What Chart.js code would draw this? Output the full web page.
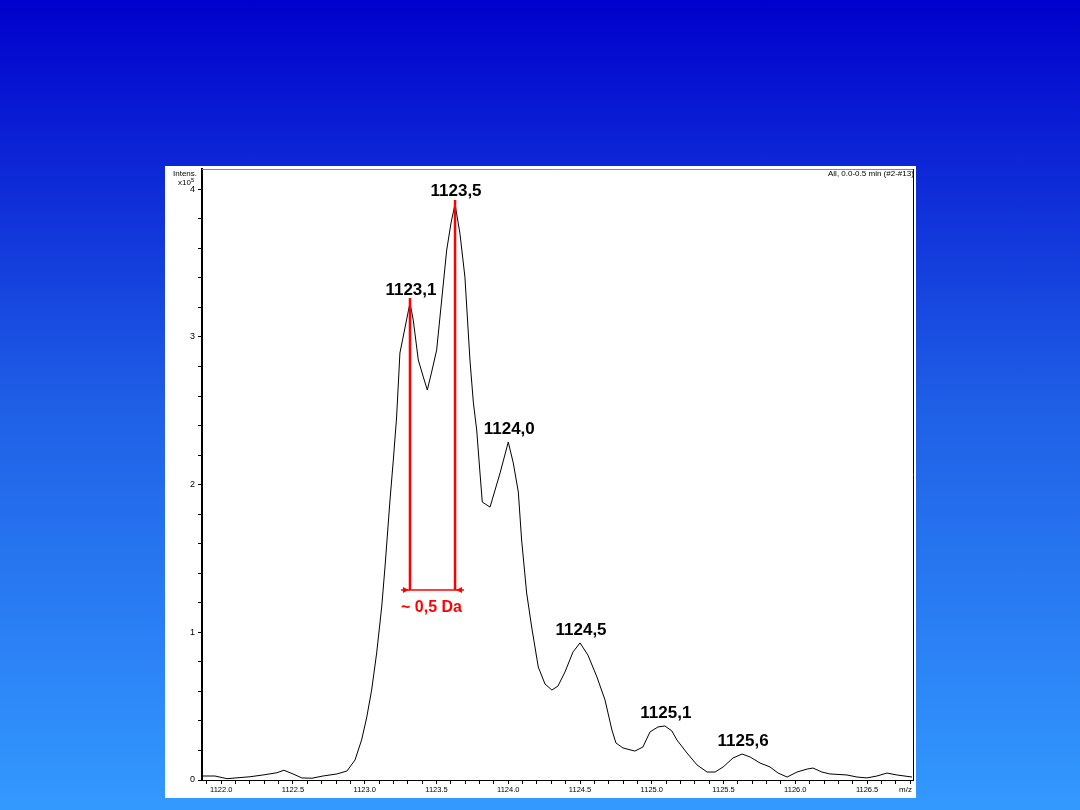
<!DOCTYPE html>
<html>
<head>
<meta charset="utf-8">
<script src="https://cdn.jsdelivr.net/npm/chart.js@4.4.0/dist/chart.umd.min.js"></script>
<style>
  html, body { margin:0; padding:0; }
  body { width:1080px; height:810px; overflow:hidden;
         background: linear-gradient(to bottom, #0000cc 0%, #1f5fe6 50%, #3399ff 100%);
         font-family: "Liberation Sans", Arial, sans-serif; position:relative; }
  #panel { position:absolute; left:165px; top:166px; width:751px; height:632px; background:#fff; }
  #wrap { position:absolute; left:0; top:0; width:1080px; height:810px; }
  .small { position:absolute; font-size:8px; color:#000; white-space:nowrap; line-height:1; }
</style>
</head>
<body>
<div id="panel"></div>
<div id="wrap"><canvas id="c"></canvas></div>
<div class="small" style="left:173px; top:170px;">Intens.</div>
<div class="small" style="left:178px; top:179px;">x10<sup style="font-size:6px; vertical-align:top; position:relative; top:-2px;">5</sup></div>
<div class="small" style="left:828px; top:170px;">All, 0.0-0.5 min (#2-#13)</div>
<div class="small" style="left:899px; top:786px;">m/z</div>
<script>
// ---- data ----
const mzValues = [
  1121.866, 1121.956, 1122.040, 1122.200, 1122.291, 1122.388, 1122.437, 1122.500, 1122.562, 1122.632,
  1122.709, 1122.806, 1122.876, 1122.932, 1122.978, 1123.013, 1123.048, 1123.083, 1123.118, 1123.141,
  1123.176, 1123.199, 1123.222, 1123.245, 1123.315, 1123.338, 1123.373, 1123.408, 1123.436, 1123.466,
  1123.501, 1123.536, 1123.571, 1123.601, 1123.629, 1123.663, 1123.698, 1123.733, 1123.757, 1123.780,
  1123.803, 1123.819, 1123.873, 1123.943, 1124.000, 1124.035, 1124.070, 1124.093, 1124.128, 1124.163,
  1124.209, 1124.256, 1124.304, 1124.346, 1124.395, 1124.451, 1124.500, 1124.555, 1124.618, 1124.674,
  1124.722, 1124.750, 1124.799, 1124.882, 1124.938, 1124.987, 1125.043, 1125.091, 1125.140, 1125.175,
  1125.245, 1125.315, 1125.385, 1125.441, 1125.497, 1125.566, 1125.629, 1125.685, 1125.754, 1125.824,
  1125.880, 1125.943, 1126.012, 1126.082, 1126.123, 1126.185, 1126.241, 1126.360, 1126.430, 1126.499,
  1126.569, 1126.638, 1126.708, 1126.813
];
const intensityValues = [
  0.027, 0.027, 0.009, 0.022, 0.034, 0.049, 0.066, 0.041, 0.014, 0.012,
  0.027, 0.041, 0.061, 0.135, 0.271, 0.420, 0.609, 0.860, 1.171, 1.442,
  1.896, 2.167, 2.458, 2.891, 3.230, 3.114, 2.844, 2.729, 2.641, 2.762,
  2.911, 3.250, 3.588, 3.771, 3.900, 3.703, 3.405, 2.844, 2.553, 2.370,
  2.079, 1.882, 1.848, 2.079, 2.288, 2.146, 1.950, 1.625, 1.266, 1.036,
  0.765, 0.650, 0.609, 0.636, 0.731, 0.867, 0.928, 0.846, 0.697, 0.542,
  0.339, 0.251, 0.217, 0.196, 0.223, 0.325, 0.359, 0.366, 0.332, 0.271,
  0.183, 0.102, 0.054, 0.054, 0.088, 0.149, 0.176, 0.156, 0.115, 0.088,
  0.047, 0.020, 0.054, 0.074, 0.081, 0.054, 0.041, 0.034, 0.020, 0.014,
  0.027, 0.047, 0.034, 0.020
];
// labelled ticks
const xTickLabels = [1122.0, 1122.5, 1123.0, 1123.5, 1124.0, 1124.5, 1125.0, 1125.5, 1126.0, 1126.5];
const yTickLabels = [0, 1, 2, 3, 4];
// peak annotations
const peakLabels = ["1123,1", "1123,5", "1124,0", "1124,5", "1125,1", "1125,6"];
const peakMz     = [1123.315, 1123.629, 1124.000, 1124.500, 1125.091, 1125.629];
const peakInt    = [3.230, 3.900, 2.288, 0.928, 0.366, 0.176];
// spacing marker between first two peaks
const spacingPeaks = [0, 1];
const spacingLevel = 1.286;
const spacingText = "~ 0,5 Da";

const annotPlugin = {
  id: 'annot',
  afterDatasetsDraw(chart) {
    const { ctx, scales: { x, y } } = chart;
    ctx.save();
    // peak labels
    ctx.font = 'bold 17px "Liberation Sans", Arial, sans-serif';
    ctx.textAlign = 'center';
    ctx.textBaseline = 'alphabetic';
    ctx.fillStyle = '#000';
    peakLabels.forEach((t, i) => {
      ctx.fillText(t, x.getPixelForValue(peakMz[i]) + 1, y.getPixelForValue(peakInt[i]) - 8);
    });
    // red spacing marker
    const xa = x.getPixelForValue(peakMz[spacingPeaks[0]]);
    const xb = x.getPixelForValue(peakMz[spacingPeaks[1]]);
    const ya = y.getPixelForValue(peakInt[spacingPeaks[0]]) - 5;
    const yb = y.getPixelForValue(peakInt[spacingPeaks[1]]) - 4;
    const yl = y.getPixelForValue(spacingLevel);
    ctx.strokeStyle = '#ff0000';
    ctx.fillStyle = '#ff0000';
    ctx.lineWidth = 2.5;
    ctx.beginPath();
    ctx.moveTo(xa, ya); ctx.lineTo(xa, yl);
    ctx.moveTo(xb, yb); ctx.lineTo(xb, yl);
    ctx.stroke();
    ctx.lineWidth = 1.5;
    ctx.beginPath();
    ctx.moveTo(xa - 9, yl); ctx.lineTo(xb + 9, yl);
    ctx.stroke();
    // arrowheads
    ctx.beginPath();
    ctx.moveTo(xa - 1, yl); ctx.lineTo(xa - 7, yl - 3); ctx.lineTo(xa - 7, yl + 3); ctx.closePath();
    ctx.moveTo(xb + 1, yl); ctx.lineTo(xb + 7, yl - 3); ctx.lineTo(xb + 7, yl + 3); ctx.closePath();
    ctx.fill();
    ctx.font = 'bold 16px "Liberation Sans", Arial, sans-serif';
    ctx.fillText(spacingText, (xa + xb) / 2 - 1, yl + 22);
    ctx.restore();
  },
  afterDraw(chart) {
    const { ctx, chartArea: a } = chart;
    ctx.save();
    ctx.lineWidth = 1;
    ctx.strokeStyle = '#888';
    ctx.beginPath(); ctx.moveTo(a.left, a.top + 0.5); ctx.lineTo(a.right, a.top + 0.5); ctx.stroke();
    ctx.strokeStyle = '#000';
    ctx.beginPath(); ctx.moveTo(a.right + 0.5, a.top); ctx.lineTo(a.right + 0.5, a.bottom); ctx.stroke();
    ctx.restore();
  }
};

const isLabelled = (v, list, f) => list.some(l => Math.abs(l - v) < 1e-6 * f);

new Chart(document.getElementById('c'), {
  type: 'line',
  data: {
    datasets: [{
      data: mzValues.map((m, i) => ({ x: m, y: intensityValues[i] })),
      borderColor: '#000',
      borderWidth: 1,
      pointRadius: 0,
      tension: 0,
      fill: false
    }]
  },
  options: {
    responsive: true,
    maintainAspectRatio: false,
    animation: false,
    devicePixelRatio: 1,
    layout: { padding: { left: 165, right: 167, top: 169, bottom: 12 } },
    plugins: { legend: { display: false }, tooltip: { enabled: false } },
    scales: {
      x: {
        type: 'linear',
        min: 1121.866,
        max: 1126.82,
        afterFit(s) { s.height = 18; },
        border: { display: true, color: '#000', width: 1 },
        grid: { display: true, drawOnChartArea: false, drawTicks: true, tickLength: 4, color: '#000' },
        ticks: {
          stepSize: 0.1,
          includeBounds: false,
          autoSkip: false,
          maxRotation: 0,
          padding: 1,
          color: '#000',
          font: { family: '"Liberation Sans", Arial, sans-serif', size: 7.5 },
          callback: (v) => isLabelled(v, xTickLabels, 1e4) ? Number(v).toFixed(1) : ''
        }
      },
      y: {
        type: 'linear',
        min: 0,
        max: 4.137,
        afterFit(s) { s.width = 37; },
        border: { display: true, color: '#000', width: 2 },
        grid: { display: true, drawOnChartArea: false, drawTicks: true, tickLength: 4, color: '#000' },
        ticks: {
          stepSize: 0.2,
          includeBounds: false,
          autoSkip: false,
          padding: 3,
          color: '#000',
          font: { family: '"Liberation Sans", Arial, sans-serif', size: 9 },
          callback: (v) => isLabelled(v, yTickLabels, 1e5) ? String(Math.round(v)) : ''
        }
      }
    }
  },
  plugins: [annotPlugin]
});
</script>
</body>
</html>
